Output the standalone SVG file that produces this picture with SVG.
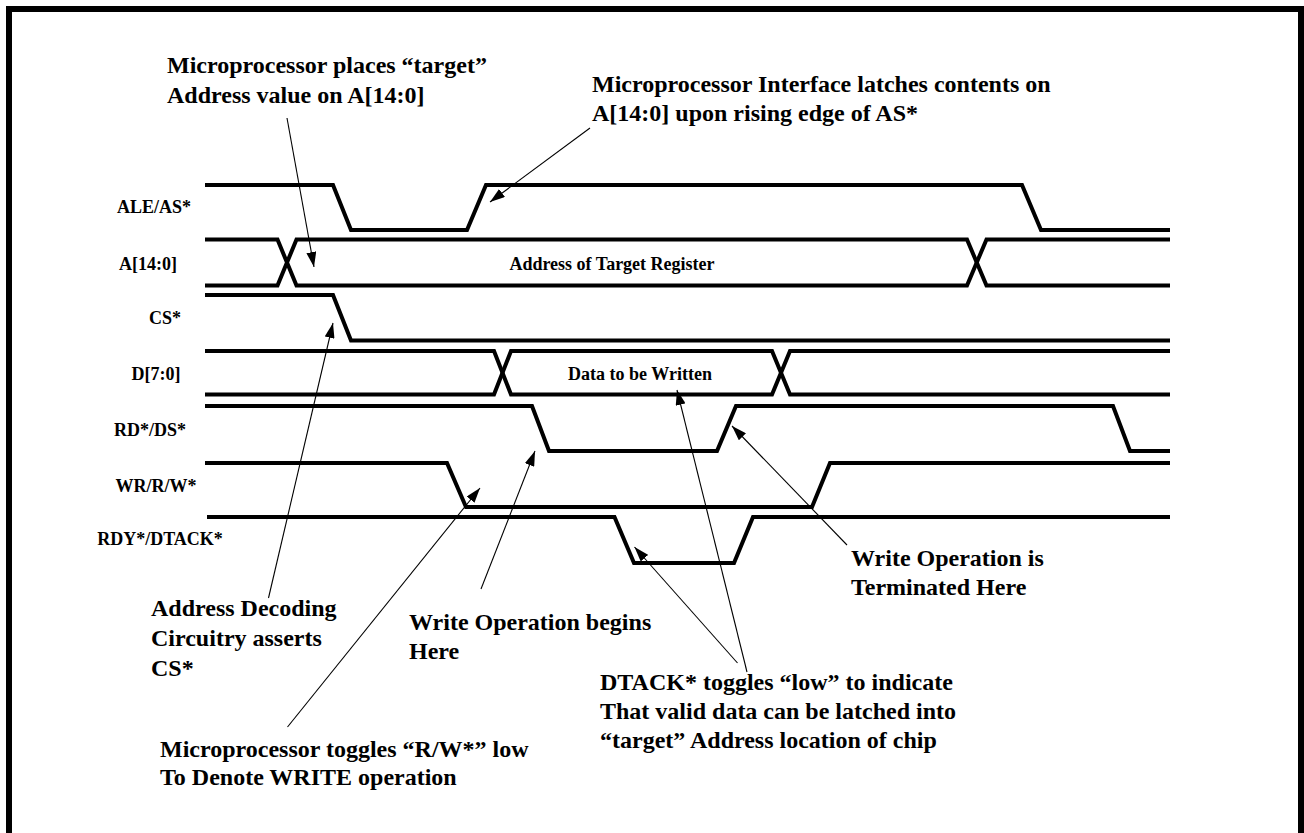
<svg xmlns="http://www.w3.org/2000/svg" width="1304" height="833" viewBox="0 0 1304 833">
  <style>
    .wave { fill: none; stroke: #000; stroke-width: 4; stroke-linejoin: miter; }
    .sig { font-family: "Liberation Serif", "Times New Roman", serif; font-weight: bold; font-size: 18px; fill: #000; text-anchor: middle; }
    .bus { font-family: "Liberation Serif", "Times New Roman", serif; font-weight: bold; font-size: 18px; fill: #000; text-anchor: middle; }
    .note { font-family: "Liberation Serif", "Times New Roman", serif; font-weight: bold; font-size: 24px; fill: #000; }
    .lead { fill: none; stroke: #000; stroke-width: 1.1; marker-end: url(#head); }
  </style>
  <defs>
    <marker id="head" viewBox="0 0 15 10" refX="15" refY="5" markerWidth="15" markerHeight="10" markerUnits="userSpaceOnUse" orient="auto">
      <path d="M0,0 L15,5 L0,10 z" fill="#000"/>
    </marker>
  </defs>

  <rect x="0" y="0" width="1304" height="833" fill="#fff"/>
  <!-- outer frame -->
  <rect x="9" y="9" width="1292" height="840" fill="none" stroke="#000" stroke-width="6"/>

  <!-- signal traces -->
  <g id="sig-ale">
    <text class="sig" x="154" y="213">ALE/AS*</text>
    <path class="wave" d="M205,185 H333 L351,230 H467 L486,185 H1022 L1041,230 H1170"/>
  </g>
  <g id="sig-addr">
    <text class="sig" x="148" y="270">A[14:0]</text>
    <path class="wave" d="M205,239.5 H277.5 L296.5,285.5 H967 L986.5,239.5 H1170"/>
    <path class="wave" d="M205,285.5 H277.5 L296.5,239.5 H967 L986.5,285.5 H1170"/>
    <text class="bus" x="612" y="270">Address of Target Register</text>
  </g>
  <g id="sig-cs">
    <text class="sig" x="165" y="324">CS*</text>
    <path class="wave" d="M205,295 H333 L351,340.5 H1170"/>
  </g>
  <g id="sig-data">
    <text class="sig" x="156" y="380">D[7:0]</text>
    <path class="wave" d="M205,351 H494 L511,394.5 H772 L790,351 H1170"/>
    <path class="wave" d="M205,394.5 H494 L511,351 H772 L790,394.5 H1170"/>
    <text class="bus" x="640" y="380">Data to be Written</text>
  </g>
  <g id="sig-rd">
    <text class="sig" x="150" y="436">RD*/DS*</text>
    <path class="wave" d="M205,406 H532 L549,451 H717 L736,406 H1113 L1130,451 H1170"/>
  </g>
  <g id="sig-wr">
    <text class="sig" x="156" y="492">WR/R/W*</text>
    <path class="wave" d="M205,463 H447 L466,507 H812 L830,463 H1170"/>
  </g>
  <g id="sig-rdy">
    <text class="sig" x="160" y="545">RDY*/DTACK*</text>
    <path class="wave" d="M207,517 H614.5 L634,563 H734 L753,517 H1170"/>
  </g>

  <!-- annotation texts -->
  <g id="note-addr-place">
    <text class="note" x="167" y="73">Microprocessor places “target”</text>
    <text class="note" x="167" y="103">Address value on A[14:0]</text>
  </g>
  <g id="note-latch">
    <text class="note" x="592" y="92">Microprocessor Interface latches contents on</text>
    <text class="note" x="592" y="121">A[14:0] upon rising edge of AS*</text>
  </g>
  <g id="note-decode">
    <text class="note" x="151" y="616">Address Decoding</text>
    <text class="note" x="151" y="646">Circuitry asserts</text>
    <text class="note" x="151" y="676">CS*</text>
  </g>
  <g id="note-write-begin">
    <text class="note" x="409" y="630">Write Operation begins</text>
    <text class="note" x="409" y="659">Here</text>
  </g>
  <g id="note-rw">
    <text class="note" x="160" y="757">Microprocessor toggles “R/W*” low</text>
    <text class="note" x="160" y="785">To Denote WRITE operation</text>
  </g>
  <g id="note-dtack">
    <text class="note" x="600" y="690">DTACK* toggles “low” to indicate</text>
    <text class="note" x="600" y="719">That valid data can be latched into</text>
    <text class="note" x="600" y="748">“target” Address location of chip</text>
  </g>
  <g id="note-write-end">
    <text class="note" x="851" y="566">Write Operation is</text>
    <text class="note" x="851" y="595">Terminated Here</text>
  </g>

  <!-- leader arrows -->
  <g id="connectors">
    <line class="lead" x1="287" y1="118" x2="314" y2="267"/>
    <line class="lead" x1="590" y1="128" x2="490" y2="202"/>
    <line class="lead" x1="268.5" y1="598" x2="333" y2="323"/>
    <line class="lead" x1="481" y1="589" x2="535" y2="451"/>
    <line class="lead" x1="287.5" y1="727" x2="480" y2="488"/>
    <line class="lead" x1="737.5" y1="663" x2="634.5" y2="547"/>
    <line class="lead" x1="747" y1="672" x2="677" y2="390"/>
    <line class="lead" x1="847" y1="545" x2="732" y2="426"/>
  </g>
</svg>
